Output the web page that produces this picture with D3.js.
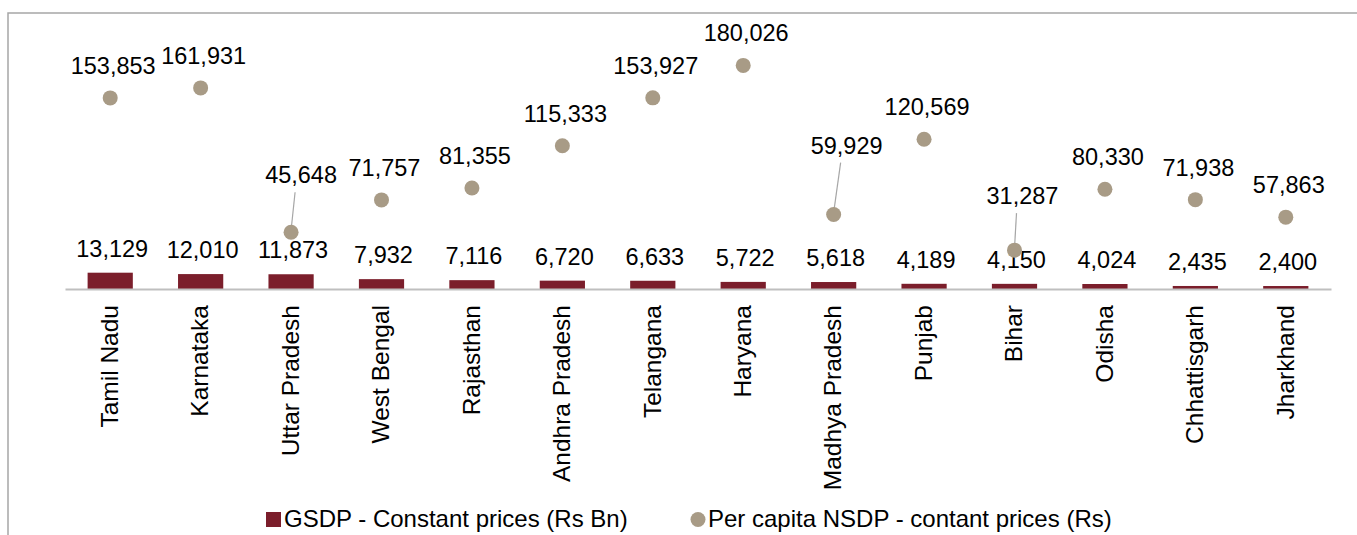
<!DOCTYPE html>
<html>
<head>
<meta charset="utf-8">
<script src="https://d3js.org/d3.v7.min.js"></script>
<style>
  body { margin: 0; background: #ffffff; }
  text { font-family: "Liberation Sans", Arial, sans-serif; fill: #000000; }
</style>
</head>
<body>
<div id="my_dataviz"></div>
<script>
// data
var states = ["Tamil Nadu", "Karnataka", "Uttar Pradesh", "West Bengal", "Rajasthan",
    "Andhra Pradesh", "Telangana", "Haryana", "Madhya Pradesh", "Punjab", "Bihar",
    "Odisha", "Chhattisgarh", "Jharkhand"];
var gsdp = [13129, 12010, 11873, 7932, 7116, 6720, 6633, 5722, 5618, 4189, 4150, 4024, 2435, 2400];
var perCapita = [153853, 161931, 45648, 71757, 81355, 115333, 153927, 180026, 59929, 120569,
    31287, 80330, 71938, 57863];
var seriesNames = ["GSDP - Constant prices (Rs Bn)", "Per capita NSDP - contant prices (Rs)"];

// labels that were moved by hand in the original (with a leader line)
var labelNudge = {
    "Uttar Pradesh": {dx: 7, dy: -25},
    "Madhya Pradesh": {dx: 10, dy: -37},
    "Bihar": {dx: 5, dy: -22}
};

var barColor = "#7b1e2b",
    dotColor = "#a89b86";

var W = 1357, H = 535;
var svg = d3.select("#my_dataviz")
        .append("svg")
        .attr("width", W)
        .attr("height", H);

// outer frame (right and bottom sides fall outside the picture)
svg.append("rect")
        .attr("x", 8)
        .attr("y", 13)
        .attr("width", W + 20)
        .attr("height", H + 20)
        .style("fill", "none")
        .style("stroke", "#a6a6a6")
        .style("stroke-width", 1.5);

// scales : both series share the same value axis
var x = d3.scaleBand()
        .domain(states)
        .range([65, 1331])
        .paddingInner(0.5)
        .paddingOuter(0.25);

var y = d3.scaleLinear()
        .domain([0, 200000])
        .range([289, 40.6]);

var fmt = d3.format(",");

// bars
svg.selectAll("rect.bar")
        .data(states)
        .enter().append("rect")
        .attr("class", "bar")
        .attr("x", function (d) { return x(d); })
        .attr("width", x.bandwidth())
        .attr("y", function (d, i) { return y(gsdp[i]); })
        .attr("height", function (d, i) { return y(0) - y(gsdp[i]); })
        .style("fill", barColor);

// category axis
var axis = svg.append("g")
        .attr("transform", "translate(0," + y(0) + ")")
        .call(d3.axisBottom(x).tickSize(0).tickSizeOuter(0));
axis.select(".domain")
        .style("stroke", "#bfbfbf")
        .style("stroke-width", 2);
axis.selectAll(".tick text")
        .attr("transform", "rotate(-90)")
        .attr("x", -16)
        .attr("y", 0)
        .attr("dy", "0.32em")
        .style("text-anchor", "end")
        .style("font-family", "'Liberation Sans', Arial, sans-serif")
        .style("font-size", "24.5px")
        .style("fill", "#000");

// bar value labels
svg.selectAll("text.barlab")
        .data(states)
        .enter().append("text")
        .attr("class", "barlab")
        .attr("x", function (d) { return x(d) + x.bandwidth() / 2 + 2; })
        .attr("y", function (d, i) { return y(gsdp[i]) - 16; })
        .style("text-anchor", "middle")
        .style("font-size", "23.5px")
        .text(function (d, i) { return fmt(gsdp[i]); });

// leader lines for the moved labels
svg.selectAll("line.leader")
        .data(states.filter(function (d) { return labelNudge[d]; }))
        .enter().append("line")
        .attr("class", "leader")
        .attr("x1", function (d) { return x(d) + x.bandwidth() / 2 + labelNudge[d].dx - 3; })
        .attr("y1", function (d) { return y(perCapita[states.indexOf(d)]) - 32 + labelNudge[d].dy + 17; })
        .attr("x2", function (d) { return x(d) + x.bandwidth() / 2; })
        .attr("y2", function (d) { return y(perCapita[states.indexOf(d)]) - 2; })
        .style("stroke", "#a6a6a6")
        .style("stroke-width", 1.2);

// dots
svg.selectAll("circle.dot")
        .data(states)
        .enter().append("circle")
        .attr("class", "dot")
        .attr("cx", function (d) { return x(d) + x.bandwidth() / 2; })
        .attr("cy", function (d, i) { return y(perCapita[i]); })
        .attr("r", 7.5)
        .style("fill", dotColor);

// dot value labels
svg.selectAll("text.dotlab")
        .data(states)
        .enter().append("text")
        .attr("class", "dotlab")
        .attr("x", function (d) {
            var n = labelNudge[d] ? labelNudge[d].dx : 0;
            return x(d) + x.bandwidth() / 2 + 3 + n;
        })
        .attr("y", function (d, i) {
            var n = labelNudge[d] ? labelNudge[d].dy : 0;
            return y(perCapita[i]) - 24 + n;
        })
        .style("text-anchor", "middle")
        .style("font-size", "23.5px")
        .text(function (d, i) { return fmt(perCapita[i]); });

// legend
var legend = svg.append("g");
legend.append("rect")
        .attr("x", 266)
        .attr("y", 512)
        .attr("width", 15)
        .attr("height", 15)
        .style("fill", barColor);
legend.append("text")
        .attr("x", 284)
        .attr("y", 527)
        .style("font-size", "24px")
        .text(seriesNames[0]);
legend.append("circle")
        .attr("cx", 698)
        .attr("cy", 519.5)
        .attr("r", 7.5)
        .style("fill", dotColor);
legend.append("text")
        .attr("x", 708)
        .attr("y", 527)
        .style("font-size", "24px")
        .text(seriesNames[1]);
</script>
</body>
</html>
